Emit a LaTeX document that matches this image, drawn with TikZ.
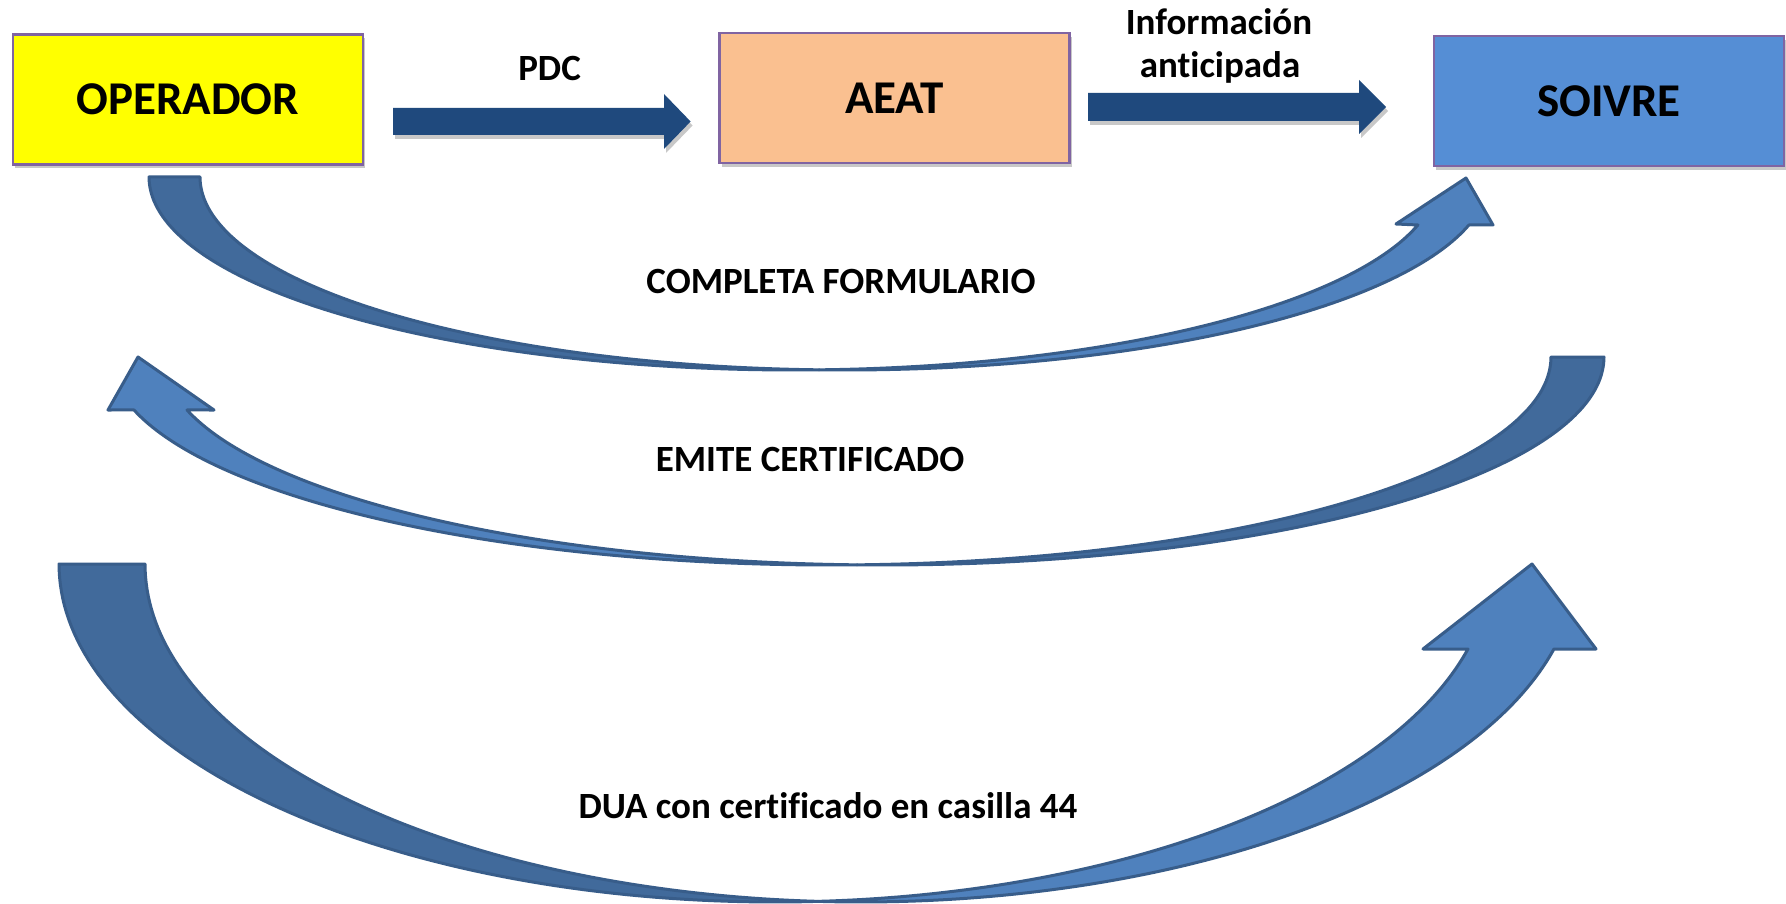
\documentclass[tikz,border=0pt]{standalone}
\usepackage{fontspec}
\setmainfont{Carlito}[Ligatures=NoCommon]
\newcommand{\ligbreak}{\kern0pt}
\usetikzlibrary{shadows,calc}
\definecolor{opyellow}{HTML}{FFFF00}
\definecolor{aeatpeach}{HTML}{FAC090}
\definecolor{soivreblue}{HTML}{558ED5}
\definecolor{boxline}{HTML}{8064A2}
\definecolor{navy}{HTML}{1F497D}
\definecolor{frontblue}{HTML}{4F81BD}
\definecolor{backblue}{HTML}{416A9B}
\definecolor{edgeblue}{HTML}{385D8A}
\tikzset{
  softshadow/.style={drop shadow={shadow xshift=2pt, shadow yshift=-4pt, opacity=0.3, fill=black!70}},
  box/.style={draw=boxline, line width=2.2pt, minimum width=350, minimum height=130,
    inner sep=0pt, font=\fontsize{47}{56}\selectfont\bfseries, softshadow},
  lbl/.style={anchor=base, inner sep=0pt, font=\fontsize{37}{44}\selectfont\bfseries},
  flatarrow/.style={fill=navy, softshadow},
  backpart/.style={fill=backblue, draw=edgeblue, line width=3pt, line join=round},
  frontpart/.style={fill=frontblue, draw=edgeblue, line width=3pt, line join=round},
}
\begin{document}
\begin{tikzpicture}[x=1pt, y=-1pt]
\useasboundingbox (0,0) rectangle (1786,904);
\fill[white] (0,0) rectangle (1786,904);

% boxes
\node[box, fill=opyellow] (op) at (187.75,99.5) {OPERADOR};
\node[box, fill=aeatpeach] (aeat) at (894.5,98) {AEAT};
\node[box, fill=soivreblue] (soivre) at (1609,101) {SOIVRE};

% straight block arrows
\coordinate (pdcS) at (393,121.5);
\coordinate (pdcE) at (690.6,121.5);
\fill[flatarrow] ($(pdcS)+(0,-13.5)$) -- (664,108) -- (664,94) -- (pdcE) -- (664,149) -- (664,135) -- ($(pdcS)+(0,13.5)$) -- cycle;
\coordinate (infS) at (1088,107);
\coordinate (infE) at (1386,107);
\fill[flatarrow] ($(infS)+(0,-14)$) -- (1359,93) -- (1359,80) -- (infE) -- (1359,134) -- (1359,121) -- ($(infS)+(0,14)$) -- cycle;

\node[lbl] (pdc) at (549.6,80.5) {PDC};
\node[lbl] (inf1) at (1219,34.5) {Información};
\node[lbl] (inf2) at (1220,77.5) {ant\ligbreak icipada};

% curve 1: OPERADOR -> SOIVRE (COMPLETA FORMULARIO)
\filldraw[backpart]
  plot[domain=180:87.73, samples=80, variable=\t] ({793.6+644.6*cos(\t)},{177+193*sin(\t)})
  -- plot[domain=92.27:180, samples=80, variable=\t] ({844.6+644.6*cos(\t)},{177+193*sin(\t)})
  -- cycle;
\filldraw[frontpart]
  plot[domain=92.27:14.4, samples=80, variable=\t] ({844.6+644.6*cos(\t)},{177+193*sin(\t)})
  -- (1493,225) -- (1466,178) -- (1396,224)
  -- plot[domain=14.4:87.73, samples=80, variable=\t] ({793.6+644.6*cos(\t)},{177+193*sin(\t)})
  -- cycle;
\node[lbl] (c1) at (841,294) {COMPLETA FORMULARIO};

% curve 2: SOIVRE -> OPERADOR (EMITE CERTIFICADO)
\filldraw[backpart]
  plot[domain=0:92.11, samples=80, variable=\t] ({883.6+720.4*cos(\t)},{357+208*sin(\t)})
  -- plot[domain=87.89:0, samples=80, variable=\t] ({830.6+720.4*cos(\t)},{357+208*sin(\t)})
  -- cycle;
\filldraw[frontpart]
  plot[domain=87.89:165.24, samples=80, variable=\t] ({830.6+720.4*cos(\t)},{357+208*sin(\t)})
  -- (108,410) -- (138,357) -- (214,410)
  -- plot[domain=165.24:92.11, samples=80, variable=\t] ({883.6+720.4*cos(\t)},{357+208*sin(\t)})
  -- cycle;
\node[lbl] (c2) at (810,471) {EMITE CERTIFICADO};

% curve 3: OPERADOR -> SOIVRE (DUA)
\filldraw[backpart]
  plot[domain=180:86.56, samples=80, variable=\t] ({775+716*cos(\t)},{564+338*sin(\t)})
  -- plot[domain=93.44:180, samples=80, variable=\t] ({861+716*cos(\t)},{564+338*sin(\t)})
  -- cycle;
\filldraw[frontpart]
  plot[domain=93.44:14.57, samples=80, variable=\t] ({861+716*cos(\t)},{564+338*sin(\t)})
  -- (1596,649) -- (1532,564) -- (1423,649)
  -- plot[domain=14.57:86.56, samples=80, variable=\t] ({775+716*cos(\t)},{564+338*sin(\t)})
  -- cycle;
\node[lbl] (c3) at (828,818) {DUA con cert\ligbreak if\ligbreak icado en casilla 44};
\end{tikzpicture}
\end{document}
